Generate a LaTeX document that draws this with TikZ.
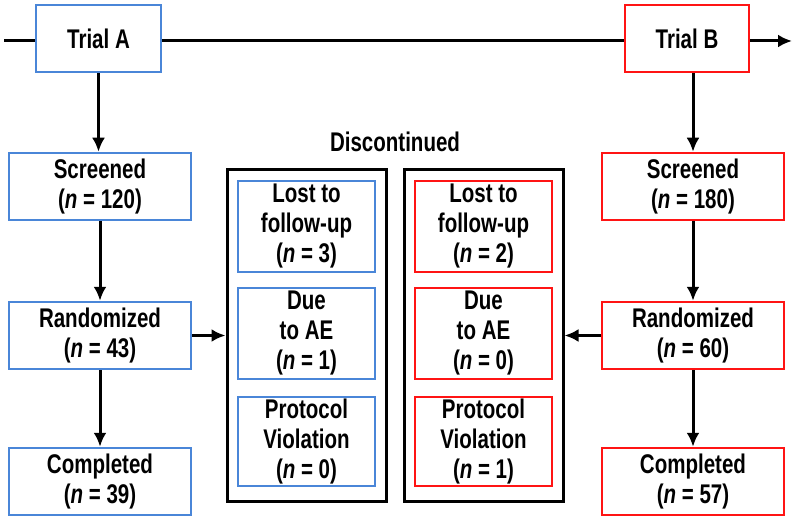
\documentclass[tikz,border=0pt]{standalone}
\usepackage{fontspec}
\setmainfont[FakeStretch=0.76]{Liberation Sans}
\usepackage{tikz}
\usetikzlibrary{calc,arrows.meta}

\definecolor{armblue}{RGB}{74,134,216}
\definecolor{armred}{RGB}{255,20,20}

\tikzset{
  armbox/.style={draw, line width=2.5pt, fill=white, align=center, inner sep=0pt,
    font=\fontsize{27}{30}\selectfont\bfseries},
  armA/.style={armbox, draw=armblue},
  armB/.style={armbox, draw=armred},
  discbox/.style={draw=black, line width=3pt, inner sep=0pt,
    minimum width=159pt, minimum height=331pt},
  flow/.style={line width=3pt, -{Latex[length=14pt,width=13pt]}}
}

\begin{document}
\begin{tikzpicture}[x=1pt, y=-1pt]
      \useasboundingbox (0, 0) rectangle (800, 521);
      % time line
      \coordinate (tstart) at (4, 41);
      \coordinate (tend) at (792, 41);
      \node[armA, minimum width=125pt, minimum height=67pt] (trialA) at (98.5, 38.5) {Trial A};
      \node[armB, minimum width=124pt, minimum height=67pt] (trialB) at (687, 38.5) {Trial B};
      \draw[line width=3pt] (tstart) -- (trialA.west |- tstart);
      \draw[line width=3pt] (trialA.east |- tstart) -- (trialB.west |- tstart);
      \draw[flow] (trialB.east |- tstart) -- (tend);
      % arm A
      \node[armA, minimum width=182pt, minimum height=67pt] (scrA) at (100, 186.5) {Screened\\(\textit{n} = 120)};
      \node[armA, minimum width=182pt, minimum height=67pt] (randA) at (100, 335.5) {Randomized\\(\textit{n} = 43)};
      \node[armA, minimum width=182pt, minimum height=67pt] (compA) at (100, 481.5) {Completed\\(\textit{n} = 39)};
      % arm B
      \node[armB, minimum width=182pt, minimum height=67pt] (scrB) at (693, 186.5) {Screened\\(\textit{n} = 180)};
      \node[armB, minimum width=182pt, minimum height=67pt] (randB) at (693, 335.5) {Randomized\\(\textit{n} = 60)};
      \node[armB, minimum width=182pt, minimum height=67pt] (compB) at (693, 481.5) {Completed\\(\textit{n} = 57)};
      % discontinued
      \node[font=\fontsize{27}{30}\selectfont\bfseries] (disc) at (395, 142) {Discontinued};
      \node[discbox] (discA) at (306.5, 335.5) {};
      \node[discbox] (discB) at (483.5, 335.5) {};
      \node[armA, minimum width=137pt, minimum height=91pt] (lostA) at (306.5, 226.5) {Lost to\\follow-up\\(\textit{n} = 3)};
      \node[armA, minimum width=137pt, minimum height=91pt] (aeA) at (306.5, 333.5) {Due\\to AE\\(\textit{n} = 1)};
      \node[armA, minimum width=137pt, minimum height=89pt] (protA) at (306.5, 441.5) {Protocol\\Violation\\(\textit{n} = 0)};
      \node[armB, minimum width=137pt, minimum height=91pt] (lostB) at (483.5, 226.5) {Lost to\\follow-up\\(\textit{n} = 2)};
      \node[armB, minimum width=137pt, minimum height=91pt] (aeB) at (483.5, 333.5) {Due\\to AE\\(\textit{n} = 0)};
      \node[armB, minimum width=137pt, minimum height=89pt] (protB) at (483.5, 441.5) {Protocol\\Violation\\(\textit{n} = 1)};
      % arrows
      \draw[flow] (trialA.south) -- (trialA.south |- scrA.north);
      \draw[flow] (scrA) -- (randA);
      \draw[flow] (randA) -- (compA);
      \draw[flow] (randA.east) -- (discA.west |- randA.east);
      \draw[flow] (scrB.north |- trialB.south) -- (scrB.north);
      \draw[flow] (scrB) -- (randB);
      \draw[flow] (randB) -- (compB);
      \draw[flow] (randB.west) -- (discB.east |- randB.west);
\end{tikzpicture}
\end{document}
